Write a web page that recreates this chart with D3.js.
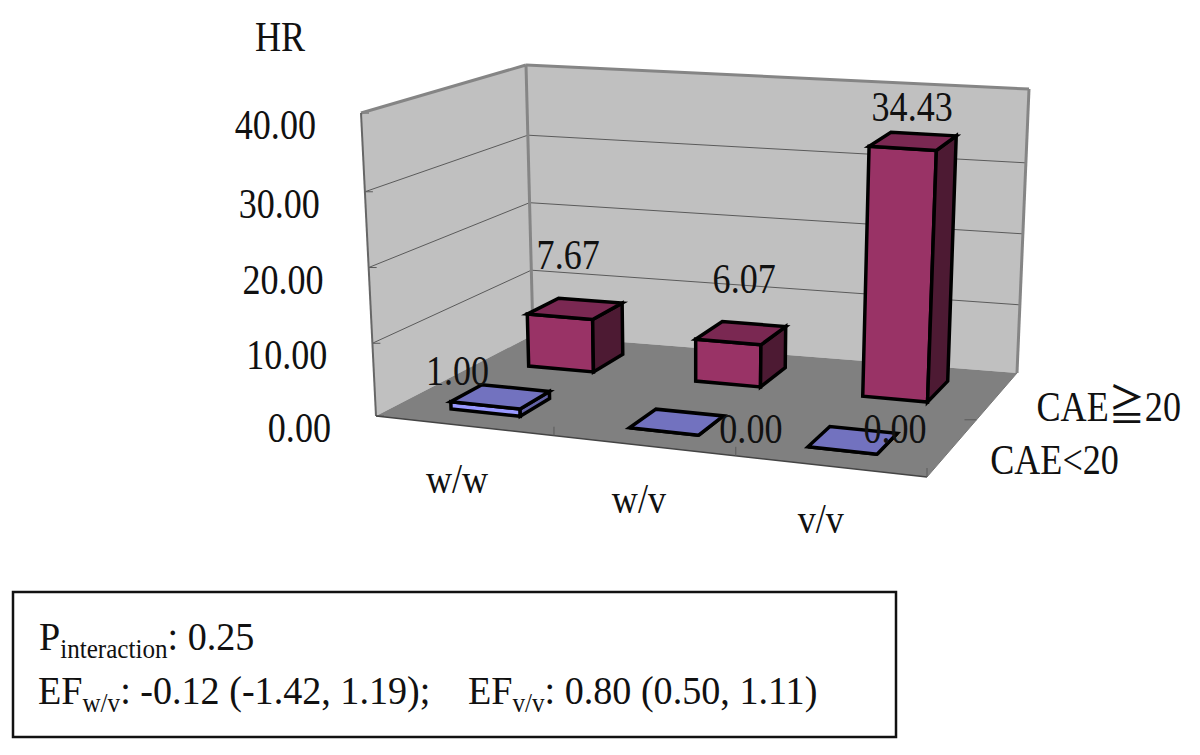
<!DOCTYPE html>
<html>
<head>
<meta charset="utf-8">
<script src="https://cdn.jsdelivr.net/npm/d3@7/dist/d3.min.js"></script>
<style>
	html, body { margin:0; padding:0; background:#fff; }
	svg { display:block; }
	text { font-family:"Liberation Serif","Noto Sans CJK TC",serif; fill:#111; }
</style>
</head>
<body>
<svg id="svg" width="1200" height="755"></svg>
<script>
	// values
	var categories = ["w/w", "w/v", "v/v"];
	var seriesNames = ["CAE<20", "CAE\u226720"];
	var hrLow = [1.00, 0.00, 0.00];
	var hrHigh = [7.67, 6.07, 34.43];
	var valueTicks = [0, 10, 20, 30, 40];

	var svg = d3.select("#svg");

	// corners of the 3d box on screen: front left, front right, back right, back left
	var floorQuad = [[376,416],[927,477],[1017,373],[533,335]];
	var topQuad = [[361,113],[942,157],[1029,89],[526,65]];

	var scaleCat = d3.scaleBand().domain(categories).range([-0.007,0.983]).paddingInner(0.612).paddingOuter(0.306);
	var scaleSer = d3.scaleBand().domain(seriesNames).range([0,1.03]).paddingInner(0.6).paddingOuter(0.3);
	var scaleVal = d3.scaleLinear().domain(valueTicks).range([0,0.24,0.49,0.74,1]);

	var colors = {
		wall:"#c0c0c0", floor:"#808080", edge:"#858585", grid:"#5a5a5a",
		low:{front:"#9999ff", top:"#7272bf", side:"#6464a8"},
		high:{front:"#993366", top:"#7a2852", side:"#4d1a33"}
	};

	function bilinear(q, u, s){
		var a = [q[0][0]+(q[1][0]-q[0][0])*u, q[0][1]+(q[1][1]-q[0][1])*u];
		var b = [q[3][0]+(q[2][0]-q[3][0])*u, q[3][1]+(q[2][1]-q[3][1])*u];
		return [a[0]+(b[0]-a[0])*s, a[1]+(b[1]-a[1])*s];
	}

	// u along categories, s along series (both 0..1), v the HR value
	function project(u, s, v){
		var f = bilinear(floorQuad,u,s), t = bilinear(topQuad,u,s), k = scaleVal(v);
		return [f[0]+(t[0]-f[0])*k, f[1]+(t[1]-f[1])*k];
	}

	function poly(pts, fill, stroke, sw){
		svg.append("polygon")
			.attr("points", pts.map(p=>p.join(",")).join(" "))
			.style("fill", fill)
			.style("stroke", stroke)
			.style("stroke-width", sw)
			.style("stroke-linejoin", "miter");
	}

	function line(a, b, stroke, sw){
		svg.append("line")
			.attr("x1",a[0]).attr("y1",a[1]).attr("x2",b[0]).attr("y2",b[1])
			.style("stroke",stroke).style("stroke-width",sw);
	}

	function label(txt, x, y, anchor, size, sx){
		return svg.append("text")
			.attr("transform","translate("+x+","+y+") scale("+(sx||0.84)+",1)")
			.attr("text-anchor",anchor||"start")
			.style("font-size",(size||43)+"px")
			.text(txt);
	}

	// walls and floor
	poly([project(0,0,40),project(0,1,40),project(0,1,0),project(0,0,0)], colors.wall, "none", 0);
	poly([project(0,1,40),project(1,1,40),project(1,1,0),project(0,1,0)], colors.wall, "none", 0);
	poly([project(0,0,0),project(1,0,0),project(1,1,0),project(0,1,0)], colors.floor, "none", 0);

	// gridlines on both walls
	valueTicks.slice(1,-1).forEach(function(v){
		line(project(0,0,v), project(0,1,v), colors.grid, 1);
		line(project(0,1,v), project(1,1,v), colors.grid, 1);
	});
	valueTicks.forEach(function(v){
		var p = project(0,0,v);
		line(p, [p[0]+8,p[1]], colors.grid, 1);
	});

	// box edges
	line(project(0,0,40), project(0,1,40), colors.edge, 3);
	line(project(0,1,40), project(1,1,40), colors.edge, 3);
	line(project(1,1,40), project(1,1,0), colors.edge, 3);
	line(project(0,1,40), project(0,1,0), colors.edge, 3);
	line(project(0,0,40), project(0,0,0), "#666", 2);
	line(project(0,0,0), project(1,0,0), "#444", 1.5);
	line(project(1,0,0), project(1,1,0), "#777", 1);

	// small ticks on the floor edges, the last one sits in the corner
	categories.forEach(function(c,i){
		var u = i == categories.length-1 ? 1 : scaleCat(c) + scaleCat.bandwidth()/2 + scaleCat.step()/2;
		var p = project(u,0,0);
		line(p, [p[0],p[1]-9], colors.grid, 1);
	});
	var rightTick = project(1,0.55,0);
	line(rightTick, [rightTick[0]-12,rightTick[1]], colors.grid, 1);

	// one box: front, top and right faces
	function drawBar(cat, ser, val, c){
		var u0 = scaleCat(cat), u1 = u0 + scaleCat.bandwidth();
		var s0 = scaleSer(ser), s1 = s0 + scaleSer.bandwidth();
		poly([project(u0,s0,val),project(u1,s0,val),project(u1,s0,0),project(u0,s0,0)], c.front, "#000", 3.5);
		poly([project(u1,s0,val),project(u1,s1,val),project(u1,s1,0),project(u1,s0,0)], c.side, "#000", 3.5);
		poly([project(u0,s0,val),project(u1,s0,val),project(u1,s1,val),project(u0,s1,val)], c.top, "#000", 3.5);
	}

	categories.forEach((c,i)=>drawBar(c, seriesNames[1], hrHigh[i], colors.high));
	categories.forEach((c,i)=>drawBar(c, seriesNames[0], hrLow[i], colors.low));

	// data labels were dragged by hand in the original, so each has its own offset
	var lowOffsets = [[-43,-12],[74,21],[42,3]];
	var highOffsets = [[-7,-40],[3,-40],[-1,-20]];
	function barLabel(cat, ser, val, off){
		var u = scaleCat(cat) + scaleCat.bandwidth()/2;
		var s = scaleSer(ser) + scaleSer.bandwidth()/2;
		var p = project(u,s,val);
		label(d3.format(".2f")(val), p[0]+off[0], p[1]+off[1], "middle");
	}
	categories.forEach((c,i)=>barLabel(c, seriesNames[1], hrHigh[i], highOffsets[i]));
	categories.forEach((c,i)=>barLabel(c, seriesNames[0], hrLow[i], lowOffsets[i]));

	// value axis
	valueTicks.forEach(function(v){
		var p = project(0,0,v);
		label(d3.format(".2f")(v), p[0]-45, p[1]+26, "end");
	});
	label("HR", 280, 51, "middle", 42, 0.86);

	// category axis
	categories.forEach(function(c){
		var p = project(scaleCat(c)+scaleCat.bandwidth()/2,0,0);
		label(c, p[0]-6, p[1]+67, "middle");
	});

	// series axis
	seriesNames.forEach(function(n){
		var p = project(1,scaleSer(n)+scaleSer.bandwidth()/2,0);
		label(n, p[0]+40, p[1]+24, "start");
	});

	// note box below the chart
	svg.append("rect")
		.attr("x",13).attr("y",592).attr("width",883).attr("height",145)
		.style("fill","#fff").style("stroke","#111").style("stroke-width",2.5);

	function noteLine(parts, x, y){
		var t = svg.append("text")
			.attr("transform","translate("+x+","+y+") scale(0.93,1)")
			.style("font-size","41px");
		parts.forEach(function(p){
			t.append("tspan")
				.attr("dy", p[1] ? 8 : (p[2] ? -8 : 0))
				.style("font-size", p[1] ? "27px" : "41px")
				.text(p[0]);
		});
	}
	noteLine([["P"],["interaction",true],[": 0.25",false,true]], 39, 650);
	noteLine([["EF"],["w/v",true],[": -0.12 (-1.42, 1.19);",false,true]], 38, 704);
	noteLine([["EF"],["v/v",true],[": 0.80 (0.50, 1.11)",false,true]], 468, 704);
</script>
</body>
</html>
